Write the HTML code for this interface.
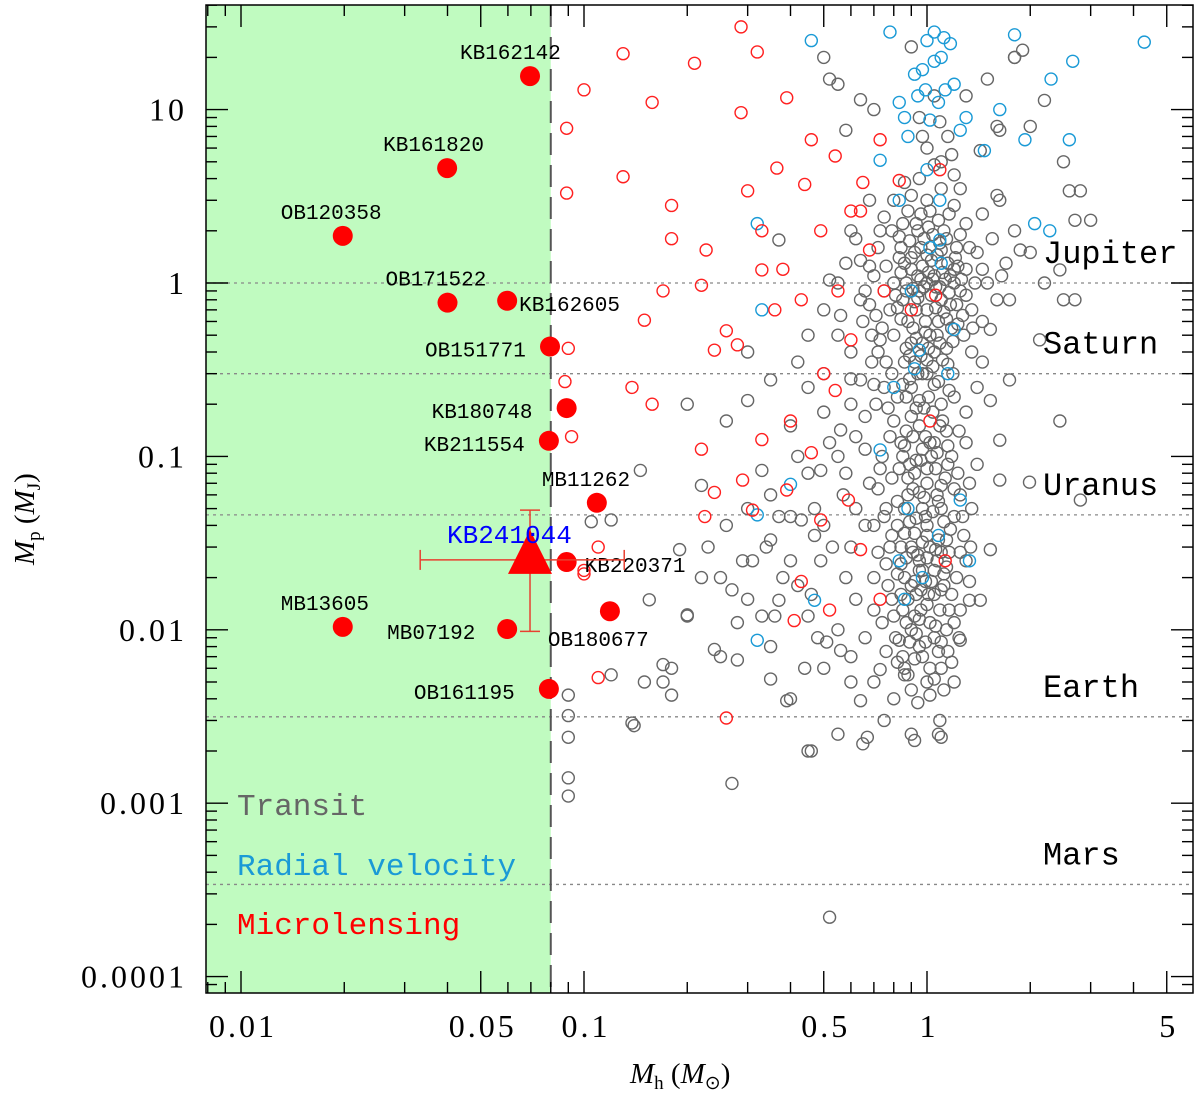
<!DOCTYPE html>
<html><head><meta charset="utf-8"><style>
body{margin:0;background:#fff}
svg{display:block}
.t{font-family:"Liberation Serif",serif;font-size:32px;letter-spacing:3px;fill:#000}
.at{font-family:"Liberation Serif",serif;font-size:29px;fill:#000}
.lab{font-family:"Liberation Mono",monospace;font-size:21px;fill:#000}
.pl{font-family:"Liberation Mono",monospace;font-size:32px;fill:#000}
.leg{font-family:"Liberation Mono",monospace;font-size:31px}
</style></head><body>
<svg id="chart" width="1200" height="1099" viewBox="0 0 1200 1099" xmlns="http://www.w3.org/2000/svg"></svg>
<script>
const xTickVals=[0.01,0.05,0.1,0.5,1,5];
const xTickLabels=["0.01","0.05","0.1","0.5","1","5"];
const yTickVals=[10,1,0.1,0.01,0.001,0.0001];
const yTickLabels=["10","1","0.1","0.01","0.001","0.0001"];
const planetNames=["Jupiter","Saturn","Uranus","Earth","Mars"];
const planetMasses=[1,0.3,0.046,0.00315,0.00034];
const bdLimit=0.08;
const namedLabels=["KB162142","KB161820","OB120358","OB171522","KB162605","OB151771","KB180748","KB211554","MB11262","KB220371","OB180677","MB13605","MB07192","OB161195"];
const namedMh=[0.0696,0.0399,0.0198,0.040,0.0597,0.0796,0.089,0.079,0.109,0.089,0.119,0.0198,0.0597,0.079];
const namedMp=[15.6,4.6,1.87,0.77,0.79,0.43,0.19,0.123,0.054,0.0246,0.0128,0.0104,0.0101,0.00456];
const targetMh=0.0696, targetMp=0.0253;
const targetMhErr=[0.0333,0.131];
const targetMpErr=[0.0098,0.049];
const transit=[[1.0,1.0],[0.95,0.9],[1.05,1.1],[1.1,0.8],[0.9,1.2],[1.2,1.0],[0.85,0.8],[1.0,0.7],[1.15,1.3],[0.92,1.5],[1.08,0.6],[0.98,1.8],[1.25,0.9],[0.8,1.0],[1.3,1.2],[1.02,0.5],[0.88,0.6],[1.12,2.0],[0.96,2.5],[1.18,0.55],[0.9,0.45],[1.05,0.4],[1.22,1.6],[0.83,1.4],[1.35,0.7],[1.4,1.5],[1.5,1.0],[1.6,0.8],[0.75,0.9],[0.7,1.1],[0.65,0.6],[1.0,3.0],[1.1,3.5],[0.95,4],[1.2,2.8],[1.3,2.2],[1.45,2.5],[1.6,3.2],[1.8,2.0],[2.0,1.5],[2.2,1.0],[2.5,0.8],[1.7,1.3],[0.6,2.0],[0.55,1.0],[0.5,0.7],[0.45,0.5],
[1.0,0.3],[0.9,0.25],[1.1,0.2],[0.95,0.15],[1.05,0.12],[0.85,0.1],[1.15,0.09],[0.92,0.08],[1.0,0.07],[0.88,0.06],[1.08,0.055],[0.97,0.05],[1.2,0.045],[0.82,0.04],[1.0,0.035],[0.9,0.03],[1.1,0.028],[0.95,0.025],[1.05,0.022],[0.86,0.02],[1.12,0.018],[0.93,0.016],[1.0,0.014],[0.8,0.012],[1.2,0.011],[0.9,0.01],[1.05,0.009],[0.95,0.008],[0.85,0.007],[1.1,0.006],[1.0,0.005],[0.9,0.0045],
[0.97,1.25],[1.03,0.85],[0.93,0.7],[1.13,1.05],[0.87,1.0],[1.07,1.45],[0.99,0.6],[1.17,0.75],[0.91,0.55],[1.01,2.1],[1.09,0.95],[0.94,1.1],[1.23,1.25],[0.84,1.15],[1.27,0.65],[0.78,0.7],[1.04,0.33],[0.96,0.38],[1.14,0.42],[0.86,0.35],[1.19,0.3],[0.89,0.28],[1.01,0.22],[0.93,0.19],[1.11,0.16],[0.87,0.14],[1.03,0.1],[0.97,0.11],[0.83,0.085],[1.13,0.075],[0.91,0.065],[1.07,0.06],[0.99,0.045],[0.89,0.042],[1.17,0.038],[1.02,0.03],[0.94,0.027],[0.84,0.024],[1.14,0.023],[1.03,0.019],[0.96,0.017],[0.88,0.015],[1.09,0.013],[0.92,0.012],[1.22,0.02],[0.78,0.03],[1.28,0.035],[0.76,0.05],[1.25,0.06],[0.8,0.16],[1.3,0.18],[0.75,0.25],[1.35,0.4],[1.4,0.25],[1.45,0.6],[0.72,0.4],[1.55,1.8],[1.65,1.1],[0.68,0.75],[1.1,5],[0.9,3.2],[1.0,6],[1.2,4.2],[0.85,2.2],[1.15,7],[0.95,9],[1.05,12],
[1.8,20],[1.5,15],[2.0,8],[2.5,5],[2.8,3.4],[3.0,2.3],[1.9,22],[0.5,20],[0.7,10],[0.55,14],[0.9,23],[1.3,12],[1.6,8],
[0.5,0.3],[0.6,0.2],[0.4,0.15],[0.55,0.1],[0.45,0.08],[0.35,0.06],[0.3,0.05],[0.5,0.04],[0.6,0.03],[0.4,0.025],[0.7,0.02],[0.25,0.02],[0.3,0.015],[0.45,0.012],[0.55,0.01],[0.35,0.008],[0.6,0.007],[0.5,0.006],[0.7,0.005],[0.4,0.004],[0.25,0.007],[0.2,0.012],[0.18,0.006],[0.15,0.005],[0.27,0.0013],[0.45,0.002],[0.55,0.0025],[0.65,0.0022],[0.75,0.003],[0.9,0.0025],[1.1,0.0024],[0.52,0.00022],[0.09,0.0042],[0.09,0.0032],[0.09,0.0024],[0.09,0.0014],[0.09,0.0011],[0.105,0.042],[0.14,0.0028],[0.12,0.0055],[0.17,0.005],[0.2,0.2],[0.3,0.4],
[0.52,15],[0.64,11.4],[0.58,7.6],[1.8,20],[2.2,11.3],[2.6,3.4],[2.7,2.3],[2.7,0.8],[2.44,1.19],[1.87,1.55],[1.63,3.0],[1.74,0.8],[1.53,0.21],[1.63,0.073],[1.99,0.071],[1.43,0.0148],[1.09,0.003],[1.08,0.0025],[0.92,0.0023],[0.67,0.0024],[0.46,0.002],[0.39,0.0039],[0.35,0.0052],[0.28,0.0067],[0.24,0.0077],[0.2,0.0122],[0.17,0.0063],[0.18,0.0042],[0.138,0.0029],[0.12,0.043],[0.146,0.083],[0.26,0.16],[0.22,0.068],[0.19,0.029],[0.155,0.0149],[0.29,0.025],[0.35,0.033],[0.43,0.043],[0.49,0.083],[0.56,0.142],[0.64,0.276],[0.73,0.47],[0.64,0.8],[0.52,1.04],[0.64,1.35],[0.73,2.0],[0.68,3.0],[0.37,1.77],[0.35,0.276],[0.3,0.21],[0.33,0.083],[0.37,0.0148],[0.49,0.025],[0.56,0.0076],[0.64,0.0039],[0.73,0.0059],[0.83,0.0087],[1.25,0.0087],[1.33,0.0148],[1.53,0.029],[1.63,0.124],[1.74,0.276],[1.53,0.54],[1.43,5.8],[1.63,7.6],[2.8,0.056],[2.44,0.16],[2.13,0.47],
[0.8,0.5],[0.82,0.22],[0.78,0.13],[0.77,0.018],[0.74,0.011],[0.82,0.0065],[1.18,0.0065],[1.25,0.013],[1.3,0.025],[1.35,0.05],[1.4,0.09],[1.45,0.35],[0.72,0.065],[0.7,0.04],[0.62,0.05],[0.58,0.08],[0.62,0.13],[0.66,0.17],[0.7,0.26],[0.6,0.4],[0.55,0.5],[0.5,0.18],[0.45,0.25],[0.42,0.35],[0.4,0.045],[0.38,0.02],[0.33,0.012],[0.28,0.011],[0.23,0.03],[0.26,0.04],[0.44,0.006],[0.48,0.009],[0.62,0.015],[0.66,0.009],[0.7,0.013],[0.76,0.0075],[0.8,0.004],[0.86,0.0055],[0.94,0.0038],[1.02,0.0042],[1.12,0.0045],[1.2,0.005],
[0.98,0.95],[1.04,1.05],[0.94,0.82],[1.06,0.72],[0.91,0.93],[1.11,1.15],[0.86,1.3],[1.16,0.88],[0.96,1.6],[1.03,1.35],[1.09,1.7],[0.89,1.75],[1.21,1.4],[0.81,0.85],[1.26,1.05],[0.84,0.62],[1.14,0.62],[0.99,0.52],[1.07,0.5],[0.93,0.48],[1.19,0.46],[0.87,0.42],[1.01,0.42],[1.11,0.36],[0.92,0.35],[0.97,0.3],[1.08,0.27],[0.85,0.26],[1.16,0.24],[0.95,0.21],[1.04,0.18],[0.9,0.17],[1.14,0.14],[0.99,0.13],[0.84,0.12],[1.07,0.105],[0.93,0.095],[1.18,0.1],[1.0,0.085],[0.88,0.075],[1.1,0.068],[0.95,0.062],[0.82,0.055],[1.04,0.048],[0.93,0.044],[1.12,0.042],[0.86,0.036],[0.97,0.032],[1.08,0.033],[0.91,0.028],[1.16,0.028],[1.0,0.026],[0.87,0.026],[0.95,0.022],[1.07,0.025],[0.82,0.021],[1.12,0.021],[0.99,0.019],[0.9,0.018],[1.05,0.016],[0.84,0.016],[1.18,0.016],[0.96,0.013],[1.02,0.011],[0.87,0.011],[1.14,0.01],[0.93,0.0095],[0.99,0.0085],[0.81,0.009],[1.08,0.0075],[0.92,0.0068],[1.02,0.006],[0.88,0.0055],
[0.76,1.25],[0.72,1.6],[0.79,2.0],[0.83,1.85],[0.88,2.6],[0.93,2.2],[1.02,2.6],[1.08,2.3],[1.16,2.5],[1.25,1.9],[1.33,1.6],[1.38,1.0],[1.45,1.2],[1.3,0.85],[1.22,0.75],[1.28,0.5],[1.36,0.55],[0.74,0.55],[0.69,0.5],[0.76,0.35],[0.79,0.3],[0.71,0.2],[0.77,0.19],[0.74,0.1],[0.79,0.075],[0.73,0.085],[0.75,0.045],[0.79,0.035],[0.72,0.028],[0.76,0.024],[0.79,0.015],[1.24,0.14],[1.3,0.12],[1.23,0.08],[1.33,0.07],[1.27,0.045],[1.34,0.03],[1.25,0.028],[1.33,0.019],[1.24,0.009],[0.86,3.8],[1.05,4.8],[1.18,5.5],[0.97,7],[1.09,8.5],[1.25,3.5],[0.8,3],[0.75,2.4],
[1.01,1.15],[0.96,1.05],[1.06,0.95],[0.92,0.78],[1.12,0.68],[0.87,0.9],[1.17,1.1],[0.9,1.4],[1.0,1.45],[1.1,1.55],[0.94,2.0],[1.04,1.9],[1.14,1.8],[0.84,1.6],[1.2,1.2],[0.82,0.72],[1.23,0.58],[0.97,0.45],[1.09,0.45],[0.89,0.38],[1.0,0.36],[1.15,0.34],[0.94,0.3],[1.05,0.26],[0.87,0.22],[1.2,0.22],[0.98,0.19],[1.09,0.15],[0.91,0.13],[1.02,0.12],[0.86,0.115],[1.15,0.115],[0.96,0.095],[1.06,0.085],[0.89,0.09],[1.2,0.065],[0.98,0.058],[0.86,0.05],[1.1,0.05],[1.0,0.04],[0.92,0.036],[1.14,0.033],[0.84,0.03],[1.06,0.029],[0.97,0.022],[1.1,0.017],[0.92,0.019],[1.01,0.016],[0.85,0.013],[1.16,0.013],[0.95,0.0115],[1.06,0.0105],[0.89,0.0085],[1.1,0.0085],[0.97,0.007],[1.15,0.0075],[0.86,0.006],[1.05,0.0052],
[0.56,0.65],[0.6,0.28],[0.52,0.12],[0.57,0.06],[0.47,0.05],[0.53,0.03],[0.58,0.02],[0.46,0.016],[0.51,0.0085],[0.6,0.005],[0.42,0.1],[0.37,0.045],[0.34,0.03],[0.31,0.025],[0.42,0.018],[0.36,0.012],[0.27,0.017],[0.22,0.02],[0.47,0.035],[0.66,0.04],[0.68,0.07],[0.66,0.11],[0.69,0.35],[0.66,0.9],[0.58,1.3],[0.62,1.8],[0.68,1.25],[0.71,0.65]];
const radialVelocity=[[0.46,25],[0.78,28],[1.0,25],[1.17,24],[1.05,19],[0.92,16],[1.13,13],[0.83,11],[1.02,8.7],[1.25,7.6],[1.8,27],[2.66,19],[2.3,15],[4.3,24.5],[1.93,6.7],[2.28,2.0],[2.06,2.2],[0.73,5.1],[0.83,3],[1.09,1.77],[1.2,0.54],[0.32,2.2],[0.33,0.7],[0.4,0.069],[0.32,0.046],[0.32,0.0087],[0.47,0.0148],[0.83,0.025],[0.86,0.015],[1.25,0.056],[0.95,0.41],[0.73,0.109],[1.33,0.025],[1.09,3.0],[1.47,5.8],[1.63,10],[2.6,6.7],[1.1,20],[0.97,17],[1.2,14],[1.3,9],[0.88,7],[1.0,4.5],[1.1,1.3],[0.9,0.9],[1.15,0.3],[1.05,28],[1.12,26],[0.99,13],[1.08,11],[0.94,12],[0.86,9],[1.02,1.6],[0.92,0.32],[0.88,0.05],[0.97,0.02],[1.08,0.035],[0.8,0.25]];
const microlensing=[[0.287,30],[0.32,21.5],[0.13,21],[0.21,18.5],[0.158,11],[0.1,13],[0.089,7.8],[0.287,9.6],[0.39,11.7],[0.13,4.1],[0.18,2.8],[0.3,3.4],[0.365,4.6],[0.44,3.7],[0.54,5.4],[0.65,3.8],[0.089,3.3],[0.18,1.8],[0.227,1.55],[0.33,2],[0.38,1.2],[0.43,0.8],[0.22,0.97],[0.17,0.9],[0.15,0.61],[0.26,0.53],[0.28,0.44],[0.24,0.41],[0.138,0.25],[0.158,0.2],[0.22,0.11],[0.24,0.062],[0.225,0.045],[0.09,0.42],[0.088,0.27],[0.092,0.13],[0.11,0.03],[0.1,0.021],[0.11,0.0053],[0.26,0.0031],[0.4,0.16],[0.46,0.105],[0.39,0.064],[0.49,0.043],[0.43,0.019],[0.41,0.0113],[0.52,0.013],[0.59,0.056],[0.64,0.029],[0.73,0.015],[0.68,1.55],[0.6,0.47],[0.54,0.24],[0.83,3.9],[1.09,4.5],[1.06,0.85],[0.9,0.7],[1.02,0.16],[1.13,0.025],[0.33,1.19],[0.36,0.7],[0.49,2.0],[0.46,6.7],[0.33,0.125],[0.29,0.073],[0.31,0.049],[0.73,6.7],[0.64,2.6],[0.1,0.022],[0.5,0.3],[0.55,0.9],[0.6,2.6],[0.75,0.9]];

const svg=document.getElementById('chart');
const NS='http://www.w3.org/2000/svg';
const L=206,R=1193,T=5,B=993;
const X0=927,XD=343,Y0=283,YD=173.4;
function sx(v){return X0+XD*Math.log10(v);}
function sy(v){return Y0-YD*Math.log10(v);}
function mk(tag,attrs,parent){const e=document.createElementNS(NS,tag);for(const k in attrs)e.setAttribute(k,attrs[k]);(parent||svg).appendChild(e);return e;}

const g=mk('rect',{x:L,y:T,width:sx(bdLimit)-L,height:B-T,fill:'#c0fbc0'});



planetNames.forEach((n,i)=>{
  const y=sy(planetMasses[i]);
  const ln=mk('line',{x1:L,x2:R,y1:y,y2:y,stroke:'#888',"stroke-width":1.3,"stroke-dasharray":'3,4'});
  
  
  const t=mk('text',{x:1043,y:y-20,class:'pl'});t.textContent=n;
  
  
});

const dl=mk('line',{x1:sx(bdLimit),x2:sx(bdLimit),y1:T,y2:B,stroke:'#555',"stroke-width":2,"stroke-dasharray":'22,10'});



function scatter(arr,color,name){
  const grp=mk('g',{});
  
  
  arr.forEach(p=>{
    const c=mk('circle',{cx:sx(p[0]),cy:sy(p[1]),r:6,fill:'none',stroke:color,"stroke-width":1.4},grp);
    
    
  });
}
scatter(transit,'#666','transit');
scatter(radialVelocity,'#1a9ad6','radial-velocity');
scatter(microlensing,'#ff2020','microlensing');

const lblOff={"KB162142":[-70,-17],"KB161820":[-64,-17],"OB120358":[-62,-17],"OB171522":[-62,-17],"KB162605":[12,10],"OB151771":[-125,10],"KB180748":[-135,10],"KB211554":[-125,10],"MB11262":[-55,-17],"KB220371":[18,10],"OB180677":[-62,35],"MB13605":[-62,-17],"MB07192":[-120,10],"OB161195":[-135,10]};
namedLabels.forEach((n,i)=>{
  const x=sx(namedMh[i]),y=sy(namedMp[i]);
  const c=mk('circle',{cx:x,cy:y,r:10,fill:'#ff0000'});
  
  
  const o=lblOff[n];
  const t=mk('text',{x:x+o[0],y:y+o[1],class:'lab'});t.textContent=n;
  
  
});

{
  const tx=sx(targetMh),ty=sy(targetMp);
  const eg=mk('g',{stroke:'#e84030',"stroke-width":1.5,fill:'none'});
  
  
  const x1=sx(targetMhErr[0]),x2=sx(targetMhErr[1]),y1=sy(targetMpErr[0]),y2=sy(targetMpErr[1]);
  mk('line',{x1:x1,x2:x2,y1:ty,y2:ty},eg);
  mk('line',{x1:x1,x2:x1,y1:ty-10,y2:ty+10},eg);
  mk('line',{x1:x2,x2:x2,y1:ty-10,y2:ty+10},eg);
  mk('line',{x1:tx,x2:tx,y1:y1,y2:y2},eg);
  mk('line',{x1:tx-10,x2:tx+10,y1:y1,y2:y1},eg);
  mk('line',{x1:tx-10,x2:tx+10,y1:y2,y2:y2},eg);
  const tri=mk('polygon',{points:`${tx},${ty-30} ${tx-22},${ty+14} ${tx+22},${ty+14}`,fill:'#ff0000'});
  
  
  const t=mk('text',{x:tx-83,y:ty-17,class:'lab',style:'font-size:26px;fill:#0000ff'});t.textContent='KB241044';
  
  
}

[["Transit","#666",815],["Radial velocity","#1a9ad6",875],["Microlensing","#ff0000",934]].forEach(l=>{
  const t=mk('text',{x:237,y:l[2],class:'leg',fill:l[1]});t.textContent=l[0];
  
  
});

const fr=mk('rect',{x:L,y:T,width:R-L,height:B-T,fill:'none',stroke:'#000',"stroke-width":1.5});



const tg=mk('g',{stroke:'#000',"stroke-width":1.4});


for(let e=-3;e<=1;e++){for(let m=1;m<10;m++){const v=m*Math.pow(10,e);const x=sx(v);if(x<L||x>R)continue;const len=(m===1||m===5)?22:11;
  mk('line',{x1:x,x2:x,y1:B,y2:B-len},tg);mk('line',{x1:x,x2:x,y1:T,y2:T+len},tg);}}
for(let e=-5;e<=1;e++){for(let m=1;m<10;m++){const v=m*Math.pow(10,e);const y=sy(v);if(y<T||y>B)continue;const len=(m===1)?22:11;
  mk('line',{x1:L,x2:L+len,y1:y,y2:y},tg);mk('line',{x1:R,x2:R-len,y1:y,y2:y},tg);}}
xTickVals.forEach((v,i)=>{const t=mk('text',{x:sx(v)+2,y:1037,class:'t',"text-anchor":'middle'});t.textContent=xTickLabels[i];
  
  });
yTickVals.forEach((v,i)=>{const t=mk('text',{x:187,y:sy(v)+11,class:'t',"text-anchor":'end'});t.textContent=yTickLabels[i];
  
  });

const xt=mk('text',{x:630,y:1083,class:'at'});
xt.innerHTML='<tspan font-style="italic">M</tspan><tspan font-size="19" dy="6">h</tspan><tspan dy="-6"> (</tspan><tspan font-style="italic">M</tspan><tspan font-size="19" dy="6">⊙</tspan><tspan dy="-6">)</tspan>';


const yt=mk('text',{x:0,y:0,class:'at',transform:'translate(34,565) rotate(-90)'});
yt.innerHTML='<tspan font-style="italic">M</tspan><tspan font-size="19" dy="6">p</tspan><tspan dy="-6"> (</tspan><tspan font-style="italic">M</tspan><tspan font-size="19" dy="6">J</tspan><tspan dy="-6">)</tspan>';


</script>
</body></html>
